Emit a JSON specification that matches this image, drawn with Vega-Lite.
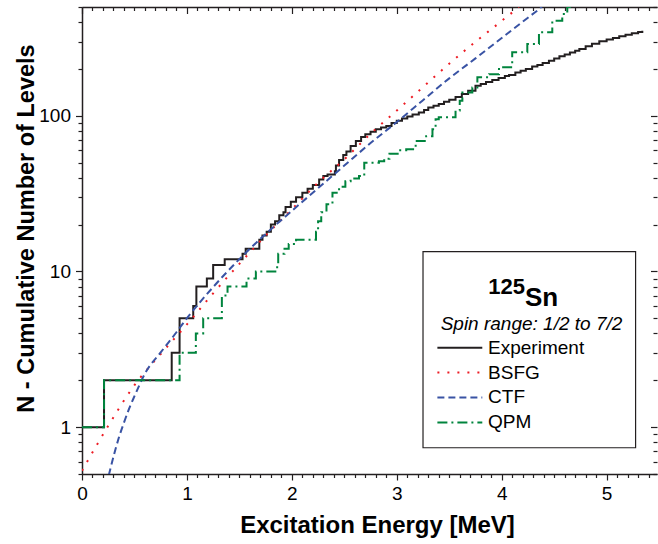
{
  "$schema": "https://vega.github.io/schema/vega-lite/v6.json",
  "width": 575,
  "height": 467,
  "autosize": "none",
  "padding": {"left": 82, "top": 7, "right": 1, "bottom": 70},
  "background": "white",
  "config": {
    "view": {"stroke": null},
    "font": "Liberation Sans",
    "axis": {
      "grid": false,
      "labelFont": "Liberation Sans",
      "labelFontSize": 19,
      "labelColor": "#000000",
      "labelFlush": false,
      "labelOverlap": false,
      "titleFont": "Liberation Sans",
      "titleFontSize": 24,
      "titleFontWeight": "bold",
      "titleColor": "#000000",
      "domainColor": "#231f20",
      "domainWidth": 1.5,
      "tickColor": "#231f20",
      "tickWidth": 1.2
    }
  },
  "datasets": {
    "curves": [
      {"series": "Experiment", "E": 0, "N": 1},
      {"series": "Experiment", "E": 0.21, "N": 2},
      {"series": "Experiment", "E": 0.855, "N": 3},
      {"series": "Experiment", "E": 0.93, "N": 5},
      {"series": "Experiment", "E": 1.06, "N": 6},
      {"series": "Experiment", "E": 1.09, "N": 8},
      {"series": "Experiment", "E": 1.19, "N": 9},
      {"series": "Experiment", "E": 1.25, "N": 11},
      {"series": "Experiment", "E": 1.36, "N": 12},
      {"series": "Experiment", "E": 1.53, "N": 13},
      {"series": "Experiment", "E": 1.56, "N": 14},
      {"series": "Experiment", "E": 1.69, "N": 16},
      {"series": "Experiment", "E": 1.72, "N": 17},
      {"series": "Experiment", "E": 1.76, "N": 18},
      {"series": "Experiment", "E": 1.8, "N": 20},
      {"series": "Experiment", "E": 1.84, "N": 21},
      {"series": "Experiment", "E": 1.88, "N": 23},
      {"series": "Experiment", "E": 1.92, "N": 24},
      {"series": "Experiment", "E": 1.94, "N": 26},
      {"series": "Experiment", "E": 1.99, "N": 28},
      {"series": "Experiment", "E": 2.04, "N": 30},
      {"series": "Experiment", "E": 2.1, "N": 32},
      {"series": "Experiment", "E": 2.15, "N": 34},
      {"series": "Experiment", "E": 2.2, "N": 36},
      {"series": "Experiment", "E": 2.26, "N": 39},
      {"series": "Experiment", "E": 2.3, "N": 41},
      {"series": "Experiment", "E": 2.34, "N": 42},
      {"series": "Experiment", "E": 2.41, "N": 44},
      {"series": "Experiment", "E": 2.42, "N": 48},
      {"series": "Experiment", "E": 2.45, "N": 52},
      {"series": "Experiment", "E": 2.49, "N": 56},
      {"series": "Experiment", "E": 2.52, "N": 59},
      {"series": "Experiment", "E": 2.56, "N": 64},
      {"series": "Experiment", "E": 2.61, "N": 69},
      {"series": "Experiment", "E": 2.66, "N": 73},
      {"series": "Experiment", "E": 2.7, "N": 76},
      {"series": "Experiment", "E": 2.75, "N": 79},
      {"series": "Experiment", "E": 2.8, "N": 82},
      {"series": "Experiment", "E": 2.85, "N": 84},
      {"series": "Experiment", "E": 2.9, "N": 86},
      {"series": "Experiment", "E": 2.95, "N": 90},
      {"series": "Experiment", "E": 3.0, "N": 93},
      {"series": "Experiment", "E": 3.05, "N": 96},
      {"series": "Experiment", "E": 3.1, "N": 99},
      {"series": "Experiment", "E": 3.15, "N": 102},
      {"series": "Experiment", "E": 3.21, "N": 105},
      {"series": "Experiment", "E": 3.26, "N": 109},
      {"series": "Experiment", "E": 3.3, "N": 113},
      {"series": "Experiment", "E": 3.35, "N": 116},
      {"series": "Experiment", "E": 3.4, "N": 119},
      {"series": "Experiment", "E": 3.45, "N": 123},
      {"series": "Experiment", "E": 3.5, "N": 127},
      {"series": "Experiment", "E": 3.56, "N": 132},
      {"series": "Experiment", "E": 3.62, "N": 138},
      {"series": "Experiment", "E": 3.68, "N": 145},
      {"series": "Experiment", "E": 3.75, "N": 156},
      {"series": "Experiment", "E": 3.8, "N": 160},
      {"series": "Experiment", "E": 3.85, "N": 165},
      {"series": "Experiment", "E": 3.91, "N": 170},
      {"series": "Experiment", "E": 3.97, "N": 175},
      {"series": "Experiment", "E": 4.03, "N": 180},
      {"series": "Experiment", "E": 4.07, "N": 183},
      {"series": "Experiment", "E": 4.13, "N": 190},
      {"series": "Experiment", "E": 4.18, "N": 195},
      {"series": "Experiment", "E": 4.23, "N": 200},
      {"series": "Experiment", "E": 4.29, "N": 207},
      {"series": "Experiment", "E": 4.34, "N": 212},
      {"series": "Experiment", "E": 4.39, "N": 218},
      {"series": "Experiment", "E": 4.45, "N": 226},
      {"series": "Experiment", "E": 4.5, "N": 233},
      {"series": "Experiment", "E": 4.55, "N": 241},
      {"series": "Experiment", "E": 4.6, "N": 248},
      {"series": "Experiment", "E": 4.65, "N": 255},
      {"series": "Experiment", "E": 4.7, "N": 262},
      {"series": "Experiment", "E": 4.74, "N": 269},
      {"series": "Experiment", "E": 4.8, "N": 280},
      {"series": "Experiment", "E": 4.86, "N": 290},
      {"series": "Experiment", "E": 4.93, "N": 301},
      {"series": "Experiment", "E": 5.0, "N": 309},
      {"series": "Experiment", "E": 5.06, "N": 316},
      {"series": "Experiment", "E": 5.12, "N": 324},
      {"series": "Experiment", "E": 5.18, "N": 332},
      {"series": "Experiment", "E": 5.24, "N": 339},
      {"series": "Experiment", "E": 5.3, "N": 346},
      {"series": "Experiment", "E": 5.34, "N": 352},
      {"series": "QPM", "E": 0, "N": 1},
      {"series": "QPM", "E": 0.21, "N": 2},
      {"series": "QPM", "E": 0.93, "N": 3},
      {"series": "QPM", "E": 1.085, "N": 4},
      {"series": "QPM", "E": 1.155, "N": 5},
      {"series": "QPM", "E": 1.333, "N": 7},
      {"series": "QPM", "E": 1.387, "N": 8},
      {"series": "QPM", "E": 1.568, "N": 9},
      {"series": "QPM", "E": 1.657, "N": 10},
      {"series": "QPM", "E": 1.86, "N": 11},
      {"series": "QPM", "E": 1.87, "N": 13},
      {"series": "QPM", "E": 1.93, "N": 14},
      {"series": "QPM", "E": 1.97, "N": 15},
      {"series": "QPM", "E": 2.04, "N": 16},
      {"series": "QPM", "E": 2.23, "N": 18},
      {"series": "QPM", "E": 2.25, "N": 21},
      {"series": "QPM", "E": 2.28, "N": 24},
      {"series": "QPM", "E": 2.33, "N": 27},
      {"series": "QPM", "E": 2.387, "N": 32},
      {"series": "QPM", "E": 2.45, "N": 35},
      {"series": "QPM", "E": 2.51, "N": 38},
      {"series": "QPM", "E": 2.56, "N": 39.6},
      {"series": "QPM", "E": 2.64, "N": 41},
      {"series": "QPM", "E": 2.69, "N": 50},
      {"series": "QPM", "E": 2.83, "N": 51},
      {"series": "QPM", "E": 2.88, "N": 53},
      {"series": "QPM", "E": 2.93, "N": 57},
      {"series": "QPM", "E": 3.02, "N": 60},
      {"series": "QPM", "E": 3.09, "N": 61},
      {"series": "QPM", "E": 3.18, "N": 69},
      {"series": "QPM", "E": 3.28, "N": 74},
      {"series": "QPM", "E": 3.34, "N": 82},
      {"series": "QPM", "E": 3.37, "N": 95},
      {"series": "QPM", "E": 3.4, "N": 98},
      {"series": "QPM", "E": 3.56, "N": 108},
      {"series": "QPM", "E": 3.6, "N": 125},
      {"series": "QPM", "E": 3.625, "N": 141},
      {"series": "QPM", "E": 3.72, "N": 152},
      {"series": "QPM", "E": 3.768, "N": 177},
      {"series": "QPM", "E": 3.88, "N": 185},
      {"series": "QPM", "E": 3.974, "N": 205},
      {"series": "QPM", "E": 4.1, "N": 256},
      {"series": "QPM", "E": 4.244, "N": 289},
      {"series": "QPM", "E": 4.355, "N": 344},
      {"series": "QPM", "E": 4.482, "N": 408},
      {"series": "QPM", "E": 4.577, "N": 451},
      {"series": "QPM", "E": 4.625, "N": 500},
      {"series": "QPM", "E": 4.65, "N": 540},
      {"series": "BSFG", "E": 0, "N": 0.525},
      {"series": "BSFG", "E": 0.25, "N": 1.02},
      {"series": "BSFG", "E": 0.5, "N": 1.86},
      {"series": "BSFG", "E": 0.75, "N": 2.95},
      {"series": "BSFG", "E": 1.0, "N": 4.57},
      {"series": "BSFG", "E": 1.25, "N": 7.24},
      {"series": "BSFG", "E": 1.5, "N": 11.2},
      {"series": "BSFG", "E": 1.75, "N": 17.0},
      {"series": "BSFG", "E": 2.0, "N": 25.1},
      {"series": "BSFG", "E": 2.25, "N": 37.2},
      {"series": "BSFG", "E": 2.5, "N": 52.5},
      {"series": "BSFG", "E": 2.75, "N": 76.7},
      {"series": "BSFG", "E": 3.0, "N": 108},
      {"series": "BSFG", "E": 3.25, "N": 153},
      {"series": "BSFG", "E": 3.5, "N": 216},
      {"series": "BSFG", "E": 3.75, "N": 299},
      {"series": "BSFG", "E": 4.0, "N": 407},
      {"series": "BSFG", "E": 4.16, "N": 501},
      {"series": "BSFG", "E": 4.25, "N": 580},
      {"series": "CTF", "E": 0.255, "N": 0.49},
      {"series": "CTF", "E": 0.3, "N": 0.646},
      {"series": "CTF", "E": 0.35, "N": 0.851},
      {"series": "CTF", "E": 0.4, "N": 1.07},
      {"series": "CTF", "E": 0.45, "N": 1.32},
      {"series": "CTF", "E": 0.5, "N": 1.58},
      {"series": "CTF", "E": 0.6, "N": 2.21},
      {"series": "CTF", "E": 0.75, "N": 3.02},
      {"series": "CTF", "E": 0.9, "N": 4.07},
      {"series": "CTF", "E": 1.0, "N": 5.01},
      {"series": "CTF", "E": 1.25, "N": 7.94},
      {"series": "CTF", "E": 1.5, "N": 12.0},
      {"series": "CTF", "E": 1.75, "N": 17.4},
      {"series": "CTF", "E": 2.0, "N": 24.5},
      {"series": "CTF", "E": 2.25, "N": 34.3},
      {"series": "CTF", "E": 2.5, "N": 47.9},
      {"series": "CTF", "E": 2.75, "N": 66.8},
      {"series": "CTF", "E": 3.0, "N": 91.2},
      {"series": "CTF", "E": 3.25, "N": 126},
      {"series": "CTF", "E": 3.5, "N": 174},
      {"series": "CTF", "E": 3.75, "N": 234},
      {"series": "CTF", "E": 4.0, "N": 316},
      {"series": "CTF", "E": 4.25, "N": 427},
      {"series": "CTF", "E": 4.38, "N": 501},
      {"series": "CTF", "E": 4.45, "N": 560}
    ],
    "legendItems": [
      {"series": "Experiment", "E1": 3.387, "E2": 3.815, "Et": 3.87, "N": 3.24},
      {"series": "BSFG", "E1": 3.387, "E2": 3.815, "Et": 3.87, "N": 2.24},
      {"series": "CTF", "E1": 3.387, "E2": 3.815, "Et": 3.87, "N": 1.553},
      {"series": "QPM", "E1": 3.387, "E2": 3.815, "Et": 3.87, "N": 1.072}
    ],
    "legendBox": [{"E1": 3.25, "E2": 5.276, "N1": 0.737, "N2": 13.43}],
    "mass": [{"text": "125", "E": 3.872, "N": 7.13}],
    "element": [{"text": "Sn", "E": 4.222, "N": 6.0}],
    "spin": [{"text": "Spin range: 1/2 to 7/2", "E": 4.284, "N": 4.21}]
  },
  "resolve": {"axis": {"x": "independent", "y": "independent"}},
  "layer": [
    {
      "data": {"name": "curves"},
      "transform": [{"filter": "datum.series === 'Experiment'"}],
      "mark": {"type": "line", "interpolate": "step-after", "strokeWidth": 2, "clip": true},
      "encoding": {
        "x": {"field": "E", "type": "quantitative",
          "scale": {"domain": [0, 5.48], "nice": false, "zero": false},
          "axis": {"orient": "bottom", "title": "Excitation Energy [MeV]",
            "values": [0,0.1,0.2,0.3,0.4,0.5,0.6,0.7,0.8,0.9,1,1.1,1.2,1.3,1.4,1.5,1.6,1.7,1.8,1.9,2,2.1,2.2,2.3,2.4,2.5,2.6,2.7,2.8,2.9,3,3.1,3.2,3.3,3.4,3.5,3.6,3.7,3.8,3.9,4,4.1,4.2,4.3,4.4,4.5,4.6,4.7,4.8,4.9,5,5.1,5.2,5.3,5.4],
            "labelExpr": "datum.value % 1 === 0 ? format(datum.value, 'd') : ''",
            "tickSize": {"condition": {"test": "datum.value % 1 === 0", "value": 6}, "value": 3.5},
            "labelPadding": 4, "titlePadding": 10, "titleX": 295}},
        "y": {"field": "N", "type": "quantitative",
          "scale": {"type": "log", "domain": [0.5, 500], "nice": false},
          "axis": {"orient": "left", "title": "N - Cumulative Number of Levels",
            "values": [0.5,0.6,0.7,0.8,0.9,1,2,3,4,5,6,7,8,9,10,20,30,40,50,60,70,80,90,100,200,300,400,500],
            "labelExpr": "datum.value === 1 || datum.value === 10 || datum.value === 100 ? format(datum.value, 'd') : ''",
            "tickSize": {"condition": {"test": "datum.value === 1 || datum.value === 10 || datum.value === 100", "value": 6.5}, "value": 4},
            "labelPadding": 5, "titlePadding": 0, "titleFontSize": 23.5, "titleY": 221}},
        "color": {"field": "series", "type": "nominal", "legend": null,
          "scale": {"domain": ["Experiment", "BSFG", "CTF", "QPM"], "range": ["#231f20", "#ed1c24", "#3953a4", "#00843d"]}},
        "strokeDash": {"field": "series", "type": "nominal", "legend": null,
          "scale": {"domain": ["Experiment", "BSFG", "CTF", "QPM"], "range": [[1, 0], [2, 8], [7, 4], [10, 4, 2, 4]]}}
      }
    },
    {
      "data": {"name": "curves"},
      "transform": [{"filter": "datum.series === 'BSFG' || datum.series === 'CTF'"}],
      "mark": {"type": "line", "interpolate": "monotone", "strokeWidth": 2, "clip": true},
      "encoding": {
        "x": {"field": "E", "type": "quantitative",
          "scale": {"domain": [0, 5.48], "nice": false, "zero": false},
          "axis": {"orient": "top", "title": null, "labels": false,
            "values": [0,0.1,0.2,0.3,0.4,0.5,0.6,0.7,0.8,0.9,1,1.1,1.2,1.3,1.4,1.5,1.6,1.7,1.8,1.9,2,2.1,2.2,2.3,2.4,2.5,2.6,2.7,2.8,2.9,3,3.1,3.2,3.3,3.4,3.5,3.6,3.7,3.8,3.9,4,4.1,4.2,4.3,4.4,4.5,4.6,4.7,4.8,4.9,5,5.1,5.2,5.3,5.4],
            "tickSize": {"condition": {"test": "datum.value % 1 === 0", "value": -6.5}, "value": -3.5}}},
        "y": {"field": "N", "type": "quantitative",
          "scale": {"type": "log", "domain": [0.5, 500], "nice": false},
          "axis": {"orient": "right", "title": null, "labels": false, "domain": false,
            "values": [0.5,0.6,0.7,0.8,0.9,1,2,3,4,5,6,7,8,9,10,20,30,40,50,60,70,80,90,100,200,300,400,500],
            "tickSize": {"condition": {"test": "datum.value === 1 || datum.value === 10 || datum.value === 100", "value": -6.5}, "value": -4}}},
        "color": {"field": "series", "type": "nominal", "legend": null},
        "strokeDash": {"field": "series", "type": "nominal", "legend": null}
      }
    },
    {
      "data": {"name": "curves"},
      "transform": [{"filter": "datum.series === 'QPM'"}],
      "mark": {"type": "line", "interpolate": "step-after", "strokeWidth": 2, "clip": true},
      "encoding": {
        "x": {"field": "E", "type": "quantitative", "axis": null},
        "y": {"field": "N", "type": "quantitative", "axis": null},
        "color": {"field": "series", "type": "nominal", "legend": null},
        "strokeDash": {"field": "series", "type": "nominal", "legend": null}
      }
    },
    {
      "data": {"name": "legendBox"},
      "mark": {"type": "rect", "fill": "white", "stroke": "#231f20", "strokeWidth": 1.2},
      "encoding": {
        "x": {"field": "E1", "type": "quantitative", "axis": null},
        "x2": {"field": "E2"},
        "y": {"field": "N1", "type": "quantitative", "axis": null},
        "y2": {"field": "N2"}
      }
    },
    {
      "data": {"name": "legendItems"},
      "mark": {"type": "rule", "strokeWidth": 2},
      "encoding": {
        "x": {"field": "E1", "type": "quantitative", "axis": null},
        "x2": {"field": "E2"},
        "y": {"field": "N", "type": "quantitative", "axis": null},
        "color": {"field": "series", "type": "nominal", "legend": null},
        "strokeDash": {"field": "series", "type": "nominal", "legend": null}
      }
    },
    {
      "data": {"name": "legendItems"},
      "mark": {"type": "text", "align": "left", "baseline": "middle", "fontSize": 19, "font": "Liberation Sans", "color": "#000000"},
      "encoding": {
        "x": {"field": "Et", "type": "quantitative", "axis": null},
        "y": {"field": "N", "type": "quantitative", "axis": null},
        "text": {"field": "series"}
      }
    },
    {
      "data": {"name": "mass"},
      "mark": {"type": "text", "align": "left", "baseline": "alphabetic", "fontSize": 22, "fontWeight": "bold", "font": "Liberation Sans", "color": "#000000"},
      "encoding": {
        "x": {"field": "E", "type": "quantitative", "axis": null},
        "y": {"field": "N", "type": "quantitative", "axis": null},
        "text": {"field": "text"}
      }
    },
    {
      "data": {"name": "element"},
      "mark": {"type": "text", "align": "left", "baseline": "alphabetic", "fontSize": 26, "fontWeight": "bold", "font": "Liberation Sans", "color": "#000000"},
      "encoding": {
        "x": {"field": "E", "type": "quantitative", "axis": null},
        "y": {"field": "N", "type": "quantitative", "axis": null},
        "text": {"field": "text"}
      }
    },
    {
      "data": {"name": "spin"},
      "mark": {"type": "text", "align": "center", "baseline": "alphabetic", "fontSize": 19, "fontStyle": "italic", "font": "Liberation Sans", "color": "#000000"},
      "encoding": {
        "x": {"field": "E", "type": "quantitative", "axis": null},
        "y": {"field": "N", "type": "quantitative", "axis": null},
        "text": {"field": "text"}
      }
    }
  ]
}
